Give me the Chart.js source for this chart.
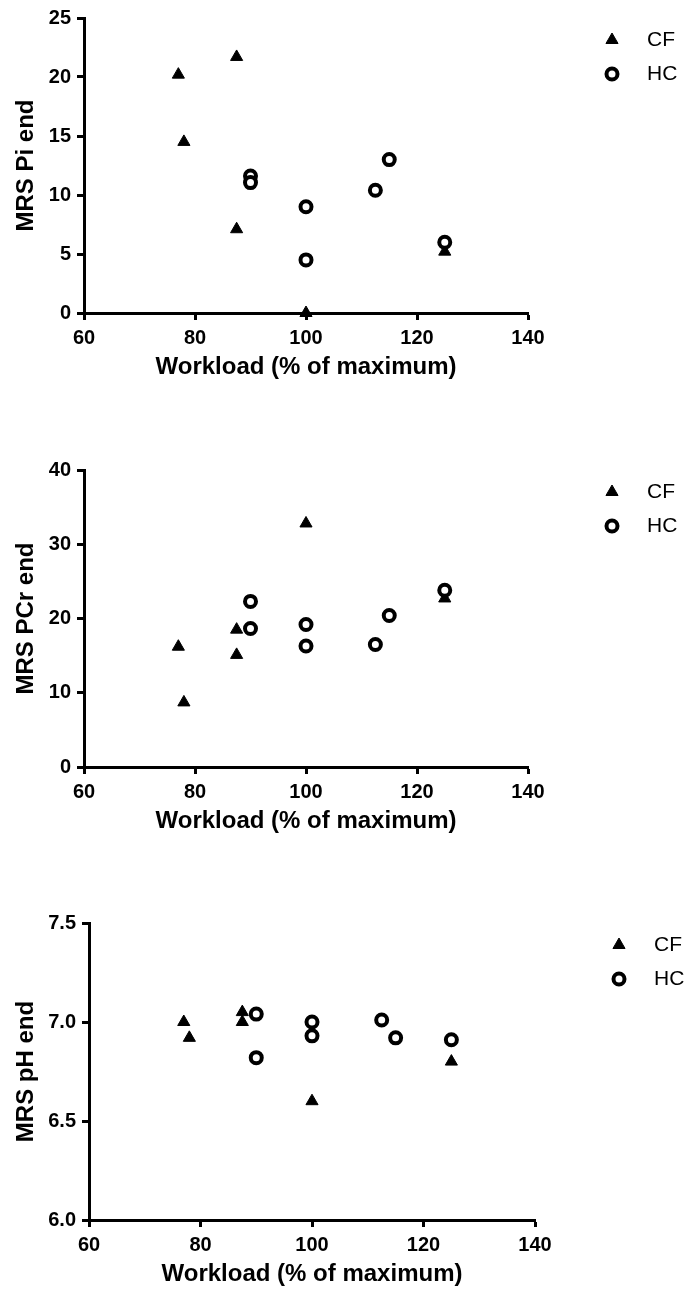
<!DOCTYPE html>
<html>
<head>
<meta charset="utf-8">
<script src="https://cdn.jsdelivr.net/npm/chart.js@4.4.0/dist/chart.umd.min.js"></script>
<style>
html, body { margin: 0; padding: 0; background: #fff; }
body { width: 688px; height: 1292px; position: relative; overflow: hidden; }
canvas { position: absolute; left: 0; }
</style>
</head>
<body>
<canvas id="chartPi" width="688" height="383" style="top:0px"></canvas>
<canvas id="chartPCr" width="688" height="397" style="top:440px"></canvas>
<canvas id="chartPH" width="688" height="410" style="top:880px"></canvas>
<script>
// workload (% of maximum) for each subject, shared by the three panels
const workloadTicks = [60, 80, 100, 120, 140];
const cfWorkload = [77, 78, 87.5, 87.5, 100, 125];
const hcWorkload = [90, 90, 100, 100, 112.5, 115, 125];

// panel 1 : MRS Pi end
const piTicks = [0, 5, 10, 15, 20, 25];
const cfPi = [20.2, 14.5, 21.7, 7.1, 0, 5.2];
const hcPi = [11.6, 11.05, 9.0, 4.5, 10.4, 13.0, 6.0];

// panel 2 : MRS PCr end
const pcrTicks = [0, 10, 20, 30, 40];
const cfPCr = [16.2, 8.7, 18.5, 15.1, 32.8, 22.7];
const hcPCr = [22.3, 18.65, 19.2, 16.3, 16.5, 20.4, 23.8];

// panel 3 : MRS pH end
const phTicks = [6.0, 6.5, 7.0, 7.5];
const cfPH = [7.0, 6.92, 7.05, 7.0, 6.60, 6.80];
const hcPH = [7.04, 6.82, 7.0, 6.93, 7.01, 6.92, 6.91];

Chart.defaults.font.family = '"Liberation Sans", Arial, Helvetica, sans-serif';
Chart.defaults.color = '#000';

// legend drawn at the right of the plot (GraphPad style)
const sideLegend = {
    id: 'sideLegend',
    afterDraw(chart) {
        const ctx = chart.ctx;
        const area = chart.chartArea;
        ctx.save();
        chart.data.datasets.forEach((ds, i) => {
            const x = area.right + 84;
            const y = area.top + 22 + i * 34;
            ctx.fillStyle = ds.backgroundColor;
            ctx.strokeStyle = ds.borderColor;
            ctx.lineWidth = ds.borderWidth;
            ctx.beginPath();
            const r = ds.pointRadius;
            if (ds.pointStyle === 'triangle') {
                ctx.moveTo(x, y - r);
                ctx.lineTo(x + r * 0.866, y + r / 2);
                ctx.lineTo(x - r * 0.866, y + r / 2);
                ctx.closePath();
            } else {
                ctx.arc(x, y, r, 0, Math.PI * 2);
            }
            ctx.fill();
            ctx.stroke();
            ctx.fillStyle = '#000';
            ctx.font = '21px "Liberation Sans", Arial, sans-serif';
            ctx.textAlign = 'left';
            ctx.textBaseline = 'middle';
            ctx.fillText(ds.label, x + 35, y);
        });
        ctx.restore();
    }
};

function toPoints(xs, ys) {
    return xs.map((x, i) => ({ x: x, y: ys[i] }));
}

function makeChart(id, cfValues, hcValues, yTitle, yTicks, decimals, box) {
    const ctx = document.getElementById(id).getContext('2d');
    return new Chart(ctx, {
        type: 'scatter',
        data: {
            datasets: [
                {
                    label: 'CF',
                    data: toPoints(cfWorkload, cfValues),
                    pointStyle: 'triangle',
                    pointRadius: 7,
                    pointHoverRadius: 7,
                    backgroundColor: '#000',
                    borderColor: '#000',
                    borderWidth: 1,
                    order: 1,
                    clip: false
                },
                {
                    label: 'HC',
                    data: toPoints(hcWorkload, hcValues),
                    pointStyle: 'circle',
                    pointRadius: 5.5,
                    pointHoverRadius: 5.5,
                    backgroundColor: '#fff',
                    borderColor: '#000',
                    borderWidth: 4,
                    order: 0,
                    clip: false
                }
            ]
        },
        options: {
            responsive: false,
            animation: false,
            devicePixelRatio: 1,
            layout: { padding: { top: box.top, right: box.right, left: 0, bottom: 0 } },
            plugins: {
                legend: { display: false },
                tooltip: { enabled: false }
            },
            scales: {
                x: {
                    type: 'linear',
                    min: workloadTicks[0],
                    max: workloadTicks[workloadTicks.length - 1],
                    afterBuildTicks: s => { s.ticks = workloadTicks.map(v => ({ value: v })); },
                    afterFit: s => { s.height = 70; },
                    border: { color: '#000', width: 3 },
                    grid: { drawOnChartArea: false, drawTicks: true, tickLength: 7, tickWidth: 3, tickColor: '#000', color: '#000' },
                    ticks: { color: '#000', font: { size: 20, weight: 'bold' }, padding: 6, maxRotation: 0, autoSkip: false },
                    title: {
                        display: true,
                        text: 'Workload (% of maximum)',
                        color: '#000',
                        font: { size: 24, weight: 'bold' },
                        padding: { top: 0, bottom: 1 }
                    }
                },
                y: {
                    type: 'linear',
                    min: yTicks[0],
                    max: yTicks[yTicks.length - 1],
                    afterBuildTicks: s => { s.ticks = yTicks.map(v => ({ value: v })); },
                    afterFit: s => { s.width = box.left; },
                    border: { color: '#000', width: 3 },
                    grid: { drawOnChartArea: false, drawTicks: true, tickLength: 7, tickWidth: 3, tickColor: '#000', color: '#000' },
                    ticks: {
                        color: '#000',
                        font: { size: 20, weight: 'bold' },
                        padding: 6,
                        autoSkip: false,
                        callback: v => Number(v).toFixed(decimals)
                    },
                    title: {
                        display: true,
                        text: yTitle,
                        color: '#000',
                        font: { size: 24, weight: 'bold' },
                        padding: { top: 12, bottom: 0 }
                    }
                }
            }
        },
        plugins: [sideLegend]
    });
}

makeChart('chartPi', cfPi, hcPi, 'MRS Pi end', piTicks, 0, { top: 16, left: 84, right: 160 });
makeChart('chartPCr', cfPCr, hcPCr, 'MRS PCr end', pcrTicks, 0, { top: 30, left: 84, right: 160 });
makeChart('chartPH', cfPH, hcPH, 'MRS pH end', phTicks, 1, { top: 43, left: 89, right: 153 });
</script>
</body>
</html>
